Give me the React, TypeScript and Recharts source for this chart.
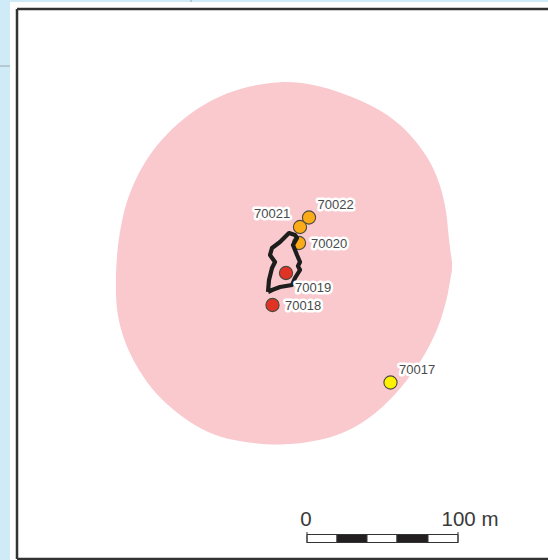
import { ComposedChart, Area, Scatter, XAxis, YAxis, ReferenceArea, ReferenceLine } from 'recharts';

// everything is in map units (x to the right, y downwards)
const zoneX = [116, 117, 122, 130, 147, 167, 190, 213, 240, 280, 320, 353, 383, 407, 427, 440, 447, 448, 452];
const zoneTop = [275, 250, 218, 190, 157, 133, 113, 99, 88, 80, 85, 97, 111, 130, 155, 182, 213, 233, 262];
const zoneBottom = [295, 313, 334, 355, 384, 405, 423, 435, 442, 446, 441, 430, 408, 381, 352, 324, 298, 293, 270];

const outlineX = [268, 269, 272, 275, 270, 272, 280, 289, 295, 297, 293, 297, 300, 298, 300, 295, 292, 280, 272, 268];
const outlineY = [292, 280, 268, 262, 255, 248, 242, 233, 235, 238, 245, 255, 262, 266, 270, 278, 285, 287, 290, 292];

const stationIds = ['70017', '70018', '70019', '70020', '70021', '70022'];
const stationX = [390.5, 272.5, 286, 299, 300, 309];
const stationY = [382.5, 305, 273, 243, 227, 217.5];
const stationColors = ['#fff200', '#e03326', '#e03326', '#fbab18', '#fbab18', '#fbab18'];

const scaleStops = [307, 337, 367, 397, 428, 458];
const scaleLabels = ['0', '100 m'];

const zoneData = zoneX.map((x, i) => ({ x, range: [zoneTop[i], zoneBottom[i]] }));
const outlineData = outlineX.map((x, i) => ({ x, y: outlineY[i] }));
const stations = stationIds.map((id, i) => ({ id, x: stationX[i], y: stationY[i], color: stationColors[i] }));
const underOutline = stations.filter(s => s.id === '70020');
const overOutline = stations.filter(s => s.id !== '70020');

// where each label's text starts, relative to its station
const labelOffset: Record<string, [number, number]> = {
  '70017': [8.5, -13.5],
  '70018': [12.5, 0],
  '70019': [9, 14],
  '70020': [12, 0],
  '70021': [-46, -14],
  '70022': [8.5, -13.5],
};

const StationDot = ({ cx, cy, payload }: any) => (
  <circle cx={cx} cy={cy} r={6.6} fill={payload.color} stroke="#4a4a3f" strokeWidth={1.1} />
);

const StationLabel = ({ cx, cy, payload }: any) => {
  const [dx, dy] = labelOffset[payload.id];
  return (
    <text
      x={cx + dx}
      y={cy + dy}
      dy="0.36em"
      fontFamily="Liberation Sans"
      fontSize={13}
      fill="#4a4a4a"
      stroke="#ffffff"
      strokeWidth={5}
      strokeLinejoin="round"
      paintOrder="stroke"
    >
      {payload.id}
    </text>
  );
};

const scaleText = (value: string, anchor: 'middle' | 'end') => ({ viewBox }: any) => (
  <text
    x={viewBox.x + (anchor === 'end' ? 40.5 : -1)}
    y={viewBox.y - 6}
    textAnchor={anchor}
    fontFamily="Liberation Sans"
    fontSize={20.5}
    fill="#3a3a3a"
  >
    {value}
  </text>
);

const App = () => (
  <div style={{ position: 'absolute', left: 0, top: 0, width: 548, height: 560, background: '#cfebf8', overflow: 'hidden' }}>
    <ComposedChart width={548} height={560} data={zoneData} margin={{ top: 0, right: 0, bottom: 0, left: 0 }}>
      <XAxis type="number" dataKey="x" domain={[0, 548]} hide />
      <YAxis type="number" domain={[0, 560]} reversed hide />

      {/* sheet and map frame */}
      <ReferenceArea x1={10} x2={548} y1={2} y2={560} fill="#ffffff" fillOpacity={1} stroke="none" />
      <ReferenceLine segment={[{ x: 0, y: 66 }, { x: 10, y: 66 }]} stroke="#9aa5aa" strokeWidth={1} />
      <ReferenceLine segment={[{ x: 191, y: 0 }, { x: 191, y: 2 }]} stroke="#9aa5aa" strokeWidth={1} />
      <ReferenceLine segment={[{ x: 17, y: 9 }, { x: 548, y: 9 }]} stroke="#333333" strokeWidth={2.5} />
      <ReferenceLine segment={[{ x: 17, y: 9 }, { x: 17, y: 559 }]} stroke="#333333" strokeWidth={2.5} />
      <ReferenceLine segment={[{ x: 17, y: 559 }, { x: 548, y: 559 }]} stroke="#333333" strokeWidth={2.5} />

      <Area dataKey="range" type="basis" stroke="none" fill="#f9c9ce" fillOpacity={1} dot={false} activeDot={false} isAnimationActive={false} />

      <Scatter data={underOutline} dataKey="y" shape={<StationDot />} isAnimationActive={false} />
      <Scatter
        data={outlineData}
        dataKey="y"
        line={{ stroke: '#1d1d1b', strokeWidth: 4.2, strokeLinejoin: 'round' }}
        lineType="joint"
        shape={() => <g />}
        isAnimationActive={false}
      />
      <Scatter data={overOutline} dataKey="y" shape={<StationDot />} isAnimationActive={false} />
      <Scatter data={stations} dataKey="y" shape={<StationLabel />} isAnimationActive={false} />

      {/* scale bar */}
      {scaleStops.slice(0, -1).map((x1, i) => (
        <ReferenceArea
          key={x1}
          x1={x1}
          x2={scaleStops[i + 1]}
          y1={534.5}
          y2={542.5}
          fill={i % 2 ? '#231f20' : '#ffffff'}
          fillOpacity={1}
          stroke="#333333"
          strokeWidth={1}
        />
      ))}
      <ReferenceLine
        segment={[{ x: scaleStops[0], y: 532 }, { x: scaleStops[0], y: 543 }]}
        stroke="#333333"
        strokeWidth={1}
        label={scaleText(scaleLabels[0], 'middle')}
      />
      <ReferenceLine
        segment={[{ x: scaleStops[5], y: 532 }, { x: scaleStops[5], y: 543 }]}
        stroke="#333333"
        strokeWidth={1}
        label={scaleText(scaleLabels[1], 'end')}
      />
    </ComposedChart>
  </div>
);

export default App;
